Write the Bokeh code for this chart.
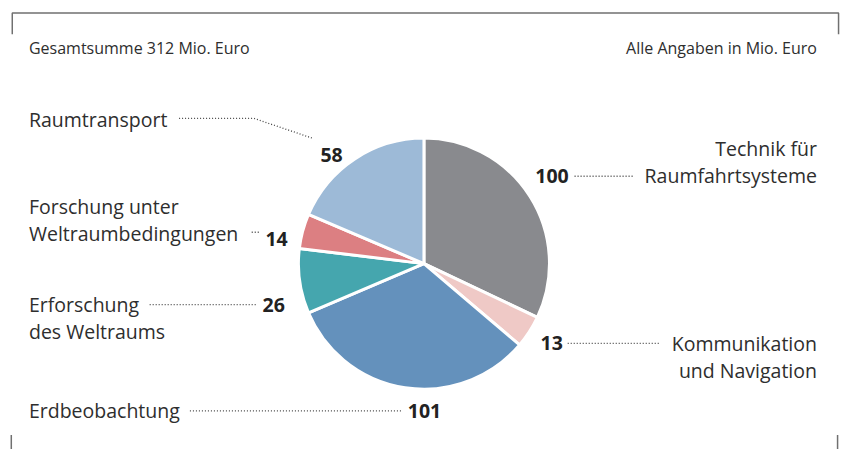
from bokeh.plotting import figure
from bokeh.models import Range1d
from bokeh.embed import file_html
from bokeh.resources import INLINE
from bokeh.core.properties import value
import math

# ---- data ----
categories = ["Technik für Raumfahrtsysteme", "Kommunikation und Navigation", "Erdbeobachtung",
              "Erforschung des Weltraums", "Forschung unter Weltraumbedingungen", "Raumtransport"]
amounts = [100, 13, 101, 26, 14, 58]
colors = ["#898a8e", "#efc9c6", "#6491bc", "#45a6ae", "#dc7f82", "#9dbad7"]
header_left = "Gesamtsumme 312 Mio. Euro"
header_right = "Alle Angaben in Mio. Euro"

# label texts (lines) per category
label_lines = [["Technik für", "Raumfahrtsysteme"], ["Kommunikation", "und Navigation"],
               ["Erdbeobachtung"], ["Erforschung", "des Weltraums"],
               ["Forschung unter", "Weltraumbedingungen"], ["Raumtransport"]]

# ---- layout (reference-image coordinates, scaled to the figure) ----
W, H = 841, 449
SX, SY = W / 857, H / 465
def X(px): return px * SX
def Y(py): return H - py * SY

FONT = "Open Sans"
TXT = "#2e2e2e"

p = figure(width=W, height=H, output_backend="svg", toolbar_location=None,
           x_range=Range1d(0, W), y_range=Range1d(0, H), min_border=0)
p.axis.visible = False
p.grid.visible = False
p.outline_line_color = None
p.background_fill_color = "white"
p.border_fill_color = "white"

# frame
fc = "#707070"
p.line([X(12), X(12), X(854), X(854)], [Y(35), Y(13), Y(13), Y(35)], line_color=fc, line_width=1.5)
p.line([X(11), X(11)], [Y(450), Y(470)], line_color=fc, line_width=1.5)
p.line([X(853), X(853)], [Y(450), Y(470)], line_color=fc, line_width=1.5)

# header texts
p.text([X(29)], [Y(49)], text=[header_left], text_font=value(FONT), text_font_size="16px",
       text_color=TXT, text_baseline="alphabetic", text_align="left")
p.text([X(832)], [Y(49)], text=[header_right], text_font=value(FONT), text_font_size="16px",
       text_color=TXT, text_baseline="alphabetic", text_align="right")

# pie
total = sum(amounts)
cx, cy, r = X(431.5), Y(272.5), 130 * SY
cum = 0
starts, ends = [], []
for a in amounts:
    s = math.pi / 2 - 2 * math.pi * (cum + a) / total
    e = math.pi / 2 - 2 * math.pi * cum / total
    starts.append(s)
    ends.append(e)
    cum += a
p.wedge(x=[cx] * len(amounts), y=[cy] * len(amounts), radius=r, start_angle=starts, end_angle=ends,
        fill_color=colors, line_color="white", line_width=3)

# label layout: (name x, name first baseline, align, value x, value baseline, value align, leader points)
layout = [
    (832, 153, "right", 579, 182, "right", [(585, 182), (646, 182)]),
    (832, 355, "right", 573, 355, "right", [(578, 355), (672, 355)]),
    (29, 425, "left", 415, 425, "left", [(193, 425), (409, 425)]),
    (29, 315, "left", 267, 315, "left", [(152, 315), (261, 315)]),
    (29, 213, "left", 270, 247, "left", [(256, 240), (265, 240)]),
    (29, 123, "left", 326, 160, "left", [(182, 122), (258, 122), (319, 143)]),
]
LH = 28
for lines, amt, (nx, ny, nal, vx, vy, val, pts) in zip(label_lines, amounts, layout):
    for i, ln in enumerate(lines):
        p.text([X(nx)], [Y(ny + i * LH)], text=[ln], text_font=value(FONT), text_font_size="19.5px",
               text_color=TXT, text_baseline="alphabetic", text_align=nal)
    p.text([X(vx)], [Y(vy)], text=[str(amt)], text_font=value(FONT), text_font_size="19.5px",
           text_font_style="bold", text_color="#222222", text_baseline="alphabetic", text_align=val)
    p.line([X(q[0]) for q in pts], [Y(q[1]) for q in pts], line_color="#444444", line_width=1.3,
           line_dash="1 2")

open("out.html", "w").write(file_html(p, INLINE))
